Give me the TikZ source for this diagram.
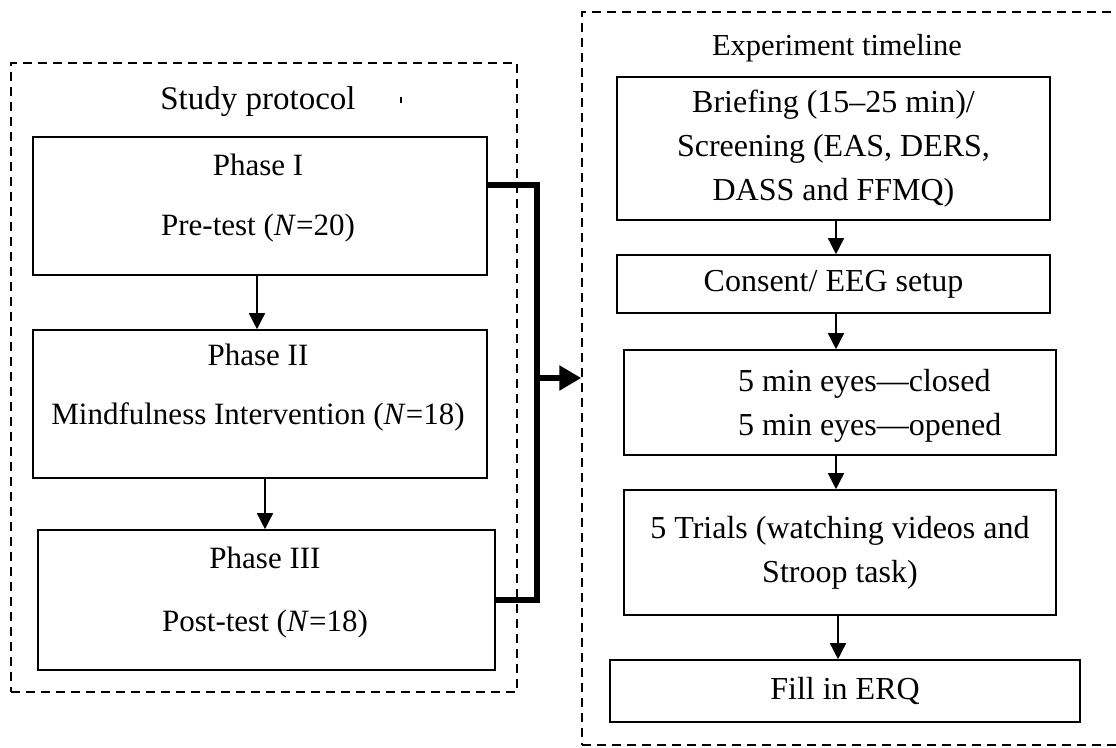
\documentclass[tikz,border=0pt]{standalone}
\usepackage{fontspec}
\setmainfont{Liberation Serif}
\usetikzlibrary{arrows.meta,calc}
\begin{document}
\begin{tikzpicture}[x=1pt,y=-1pt,
  frame/.style={draw, dash pattern=on 9pt off 6pt, line width=1.5pt, inner sep=0pt},
  stepbox/.style={draw, line width=1.6pt, inner sep=0pt},
  ltext/.style={font=\fontsize{31}{37}\selectfont, inner sep=0pt},
  rtext/.style={font=\fontsize{32}{44}\selectfont, align=center, inner sep=0pt},
  flow/.style={line width=1.5pt, -{Triangle[width=16pt,length=16pt]}},
  joinline/.style={line width=6pt},
]
\useasboundingbox (0,0) rectangle (1116,747);
\clip (0,0) rectangle (1116,747);

% dashed frames
\node[frame, minimum width=506pt, minimum height=629pt] (lframe) at (264,377.5) {};
\node[frame, minimum width=558pt, minimum height=733pt] (rframe) at (861,378.5) {};

% frame titles
\node[ltext, font=\fontsize{33}{37}\selectfont] (ltitle) at (258,102) {Study protocol};
\draw[line width=1.5pt] (401,97) -- (401,103);
\node[rtext, font=\fontsize{30.5}{40}\selectfont] (rtitle) at (837,48) {Experiment timeline};

% study protocol phases
\node[stepbox, minimum width=454pt, minimum height=138pt] (p1) at (260,206) {};
\node[stepbox, minimum width=454pt, minimum height=148pt] (p2) at (260,404) {};
\node[stepbox, minimum width=457pt, minimum height=140pt] (p3) at (266.5,600) {};

\node[ltext] (p1a) at (258,165) {Phase I};
\node[ltext] (p1b) at (258,228) {Pre-test (\textit{N}=20)};
\node[ltext] (p2a) at (258,355) {Phase II};
\node[ltext] (p2b) at (258,417) {Mindfulness Intervention (\textit{N}=18)};
\node[ltext] (p3a) at (265,558) {Phase III};
\node[ltext] (p3b) at (265,624) {Post-test (\textit{N}=18)};

\draw[flow] (p1.south -| 257,0) -- (p2.north -| 257,0);
\draw[flow] (p2.south -| 265,0) -- (p3.north -| 265,0);

% experiment timeline steps
\node[stepbox, rtext, minimum width=433pt, minimum height=143pt] (brief) at (833.5,148.5)
  {Briefing (15–25 min)/\\Screening (EAS, DERS,\\DASS and FFMQ)};
\node[stepbox, rtext, minimum width=433pt, minimum height=58pt] (consent) at (833.5,284)
  {Consent/ EEG setup};
\node[stepbox, minimum width=432pt, minimum height=105pt] (eyes) at (840,402.5) {};
\node[rtext, align=left, anchor=west] (eyestext) at (738,406)
  {5 min eyes—closed\\5 min eyes—opened};
\node[stepbox, rtext, minimum width=432pt, minimum height=125pt] (trials) at (840,552.5)
  {5 Trials (watching videos and\\Stroop task)};
\node[stepbox, rtext, minimum width=470pt, minimum height=62pt] (erq) at (845,691)
  {Fill in ERQ};

\draw[flow] (brief.south -| 836,0) -- (consent.north -| 836,0);
\draw[flow] (consent.south -| 836,0) -- (eyes.north -| 836,0);
\draw[flow] (eyes.south -| 836,0) -- (trials.north -| 836,0);
\draw[flow] (trials.south -| 838,0) -- (erq.north -| 838,0);

% bracket joining the phases to the timeline
\coordinate (jn) at (537,378);
\draw[joinline] ([yshift=21pt]p1.east) -| (jn);
\draw[joinline] (p3.east) -| (jn);
\draw[joinline, -{Triangle[width=24pt,length=22pt]}] ([xshift=-3pt]jn) -- (jn -| rframe.west);
\end{tikzpicture}
\end{document}
